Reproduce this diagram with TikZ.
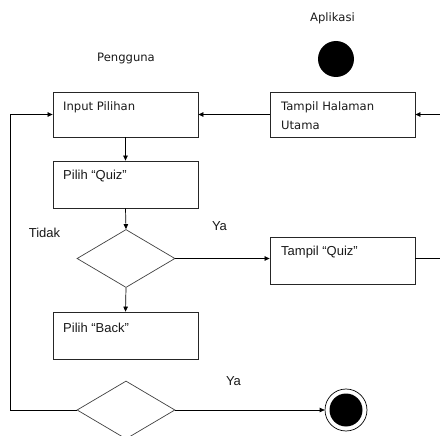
\documentclass[tikz,border=0pt]{standalone}
\usepackage{fontspec}
\setmainfont{DejaVu Sans}
\newfontfamily\vfont{DejaVu Sans}
\newfontfamily\afont{Liberation Sans}
\usetikzlibrary{shapes.geometric,arrows.meta}
\begin{document}
\begin{tikzpicture}[x=1pt,y=-1pt,
  box/.style={draw=black!85,line width=0.8pt,rectangle,minimum width=145pt,inner sep=0pt},
  dia/.style={draw=black!75,line width=0.7pt,diamond,minimum width=98pt,minimum height=58pt,inner sep=0pt},
  vtxt/.style={anchor=base west,inner sep=0pt,font=\vfont\fontsize{11.6}{13}\selectfont,text=black!90},
  atxt/.style={anchor=base west,inner sep=0pt,font=\afont\fontsize{13}{15}\selectfont,text=black!90},
  vlbl/.style={anchor=base,inner sep=0pt,font=\vfont\fontsize{11.6}{13}\selectfont,text=black!90},
  albl/.style={anchor=base,inner sep=0pt,font=\afont\fontsize{13}{15}\selectfont,text=black!90},
  flow/.style={line width=0.7pt,-{Triangle[length=5pt,width=4.5pt]}},
  plain/.style={line width=0.7pt}]
\useasboundingbox (0,0) rectangle (440,436);
% titles
\node[vlbl] (app) at (332.5,22) {Aplikasi};
\node[vlbl] (usr) at (126,62) {Pengguna};
% start
\node[circle,fill=black,minimum size=36pt,inner sep=0pt] (start) at (336,59) {};
% boxes
\node[box,minimum height=45pt] (inp) at (125.5,114.5) {};
\node[vtxt] (inpt) at (63,111) {Input Pilihan};
\node[box,minimum height=45pt] (tam) at (342.5,114.5) {};
\node[vtxt] (tamt) at (281,111) {Tampil Halaman};
\node[vtxt] (tamt2) at (281,130) {Utama};
\node[box,minimum height=47pt] (pq) at (125.5,184.5) {};
\node[atxt] (pqt) at (63,180) {Pilih “Quiz”};
\node[box,minimum height=47pt] (tq) at (342.5,260.5) {};
\node[atxt] (tqt) at (281,255) {Tampil “Quiz”};
\node[box,minimum height=47pt] (pb) at (125.5,335.5) {};
\node[atxt] (pbt) at (63,332) {Pilih “Back”};
% diamonds
\node[dia] (d1) at (126,258.5) {};
\node[dia] (d2) at (126,410) {};
% end
\node[circle,draw=black,line width=0.7pt,minimum size=42pt,inner sep=0pt] (end) at (346,410) {};
\node[circle,fill=black,minimum size=33pt,inner sep=0pt] (endin) at (346,410) {};
% labels
\node[albl] (tidak) at (44.5,237) {Tidak};
\node[albl] (ya1) at (219.5,230) {Ya};
\node[albl] (ya2) at (233.5,385) {Ya};
% coordinates
\coordinate (rin) at (440,114.5);
\coordinate (rout) at (440,258.5);
\coordinate (lp) at (10,410);
% connectors
\draw[flow] (rin) -- (tam.east);
\draw[flow] (tam.west) -- (inp.east);
\draw[flow] (inp.south) -- (pq.north);
\draw[flow] (pq.south) -- (d1.north);
\draw[flow] (d1.east) -- (d1.east -| tq.west);
\draw[plain] (tq.east |- d1.east) -- (rout);
\draw[flow] (d1.south) -- (pb.north);
\draw[flow] (d2.east) -- (end.west);
\draw[flow] (d2.west) -- (lp) |- (inp.west);
\end{tikzpicture}
\end{document}
